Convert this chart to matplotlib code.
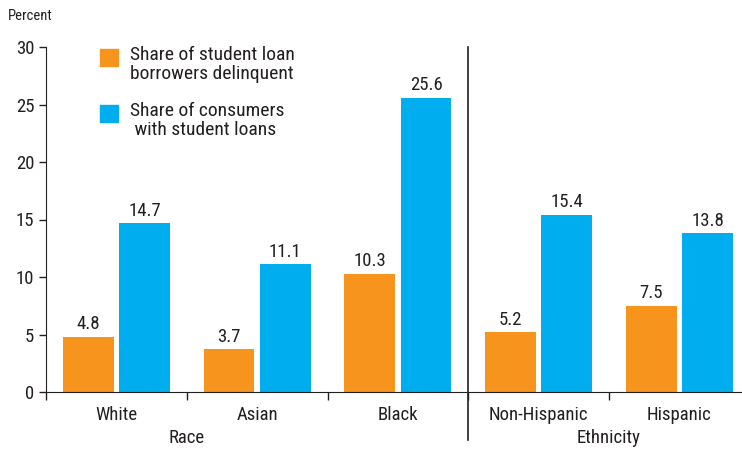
import numpy as np
import matplotlib.pyplot as plt
from matplotlib.patches import Rectangle
from matplotlib.transforms import blended_transform_factory

plt.rcParams['font.family'] = ['Roboto Condensed', 'Liberation Sans Narrow', 'Roboto', 'DejaVu Sans']

categories = ['White', 'Asian', 'Black', 'Non-Hispanic', 'Hispanic']
delinquent = [4.8, 3.7, 10.3, 5.2, 7.5]
with_loans = [14.7, 11.1, 25.6, 15.4, 13.8]
groups = ['Race', 'Ethnicity']
group_pos = [1, 4]
yticks = [0, 5, 10, 15, 20, 25, 30]
legend_labels = ['Share of student loan\nborrowers delinquent',
                 'Share of consumers\n with student loans']

orange = '#F7941D'
blue = '#00AEEF'
txt = '#231F20'
W, H = 742, 449

fig = plt.figure(figsize=(W / 100, H / 100), dpi=100)
ax = fig.add_axes([46 / W, 57 / H, 696 / W, 345 / H])

x = np.arange(len(categories)) + 0.5
w = 0.36
b1 = ax.bar(x - 0.2, delinquent, w, color=orange)
b2 = ax.bar(x + 0.2, with_loans, w, color=blue)

for bars, vals in [(b1, delinquent), (b2, with_loans)]:
    for r, v in zip(bars, vals):
        ax.text(r.get_x() + r.get_width() / 2, v + 0.3, f'{v:.1f}',
                ha='center', va='bottom', fontsize=13.5, color=txt)

ax.set_xlim(0, 696 / 140.75)
ax.set_ylim(0, 30)
ax.set_yticks(yticks)
ax.set_xticks(np.arange(len(categories)))
ax.set_xticklabels([])
ax.tick_params(axis='both', direction='out', length=5, width=1, colors=txt,
               labelsize=13.5)
ax.tick_params(axis='x', length=6)
for s in ['top', 'right']:
    ax.spines[s].set_visible(False)
for s in ['left', 'bottom']:
    ax.spines[s].set_color(txt)

trans = blended_transform_factory(ax.transData, ax.transAxes)
for xi, c in zip(x, categories):
    ax.text(xi, -0.04, c, transform=trans, ha='center', va='top',
            fontsize=13.5, color=txt)
for gp, g in zip(group_pos, groups):
    ax.text(gp, -0.108, g, transform=trans, ha='center', va='top',
            fontsize=13.5, color=txt)

ax.plot([3, 3], [1.0, -0.14], transform=trans, color=txt, lw=1.2, clip_on=False)

fig.text(8 / W, 1 - 16 / H, 'Percent', fontsize=10.5, color=txt, va='center')

# legend drawn by hand so the swatch lines up with the first text line
for col, lab, top in [(orange, legend_labels[0], 49), (blue, legend_labels[1], 105)]:
    fig.patches.append(Rectangle((100 / W, 1 - (top + 17) / H), 18 / W, 17 / H,
                                 transform=fig.transFigure, color=col))
    fig.text(130 / W, 1 - (top - 3) / H, lab, fontsize=14, color=txt,
             va='top', linespacing=1.05)

fig.savefig('out.png', dpi=100)
